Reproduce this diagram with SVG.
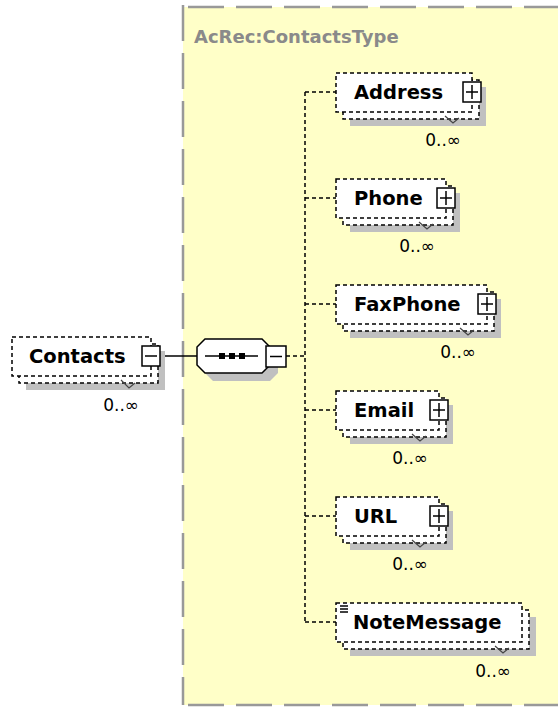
<svg xmlns="http://www.w3.org/2000/svg" width="558" height="707" viewBox="0 0 558 707">
<style>
.bg{fill:#ffffff}
.cont{fill:#ffffc8}
.cborder{fill:none;stroke:#999999;stroke-width:2.5;stroke-dasharray:36 12}
.title{font-family:"DejaVu Sans",sans-serif;font-weight:bold;font-size:18px;fill:#8a8a8a}
.shadow{fill:#c0c0c0}
.box{fill:#ffffff;stroke:#000000;stroke-width:1.5;stroke-dasharray:4 3}
.name{font-family:"DejaVu Sans",sans-serif;font-weight:bold;font-size:19.5px;fill:#000000}
.occ{font-family:"DejaVu Sans",sans-serif;font-size:17px;fill:#000000;text-anchor:end}
.icon{fill:#ffffff;stroke:#000000;stroke-width:1.5}
.iline{stroke:#000000;stroke-width:1.5;fill:none}
.vmark{fill:none;stroke:#444444;stroke-width:1.2}
.solid{stroke:#000000;stroke-width:1.5;fill:none}
.dash{stroke:#000000;stroke-width:1.5;fill:none;stroke-dasharray:4 3}
</style>
<rect class="bg" x="0" y="0" width="558" height="707"/>
<g id="container">
<rect class="cont" x="183" y="7" width="380" height="698"/>
<line class="cborder" x1="188" y1="7" x2="558" y2="7"/>
<line class="cborder" x1="183" y1="5" x2="183" y2="705"/>
<line class="cborder" x1="188" y1="705" x2="558" y2="705"/>
<text class="title" x="194" y="43">AcRec:ContactsType</text>
</g>
<g id="connectors">
<line class="solid" x1="160" y1="356" x2="197" y2="356"/>
<line class="dash" x1="286" y1="356" x2="305" y2="356"/>
<line class="dash" x1="305" y1="92" x2="305" y2="622"/>
<line class="dash" x1="305" y1="92" x2="336" y2="92"/>
<line class="dash" x1="305" y1="198" x2="336" y2="198"/>
<line class="dash" x1="305" y1="304" x2="336" y2="304"/>
<line class="dash" x1="305" y1="410" x2="336" y2="410"/>
<line class="dash" x1="305" y1="516" x2="336" y2="516"/>
<line class="dash" x1="305" y1="622" x2="336" y2="622"/>
</g>
<g id="node-contacts">
<rect class="shadow" x="26" y="351" width="139" height="39"/>
<rect class="box" x="19" y="344" width="139" height="39"/>
<rect class="box" x="12" y="337" width="139" height="39"/>
<text class="name" x="29" y="363">Contacts</text>
<rect class="icon" x="142" y="346" width="18" height="20"/>
<line class="iline" x1="145" y1="356" x2="157" y2="356"/>
<polyline class="vmark" points="121,380 129,388 135,383"/>
<text class="occ" x="139" y="411">0..∞</text>
</g>
<g id="sequence">
<polygon class="shadow" points="213,347 270,347 278,355 278,373 270,381 213,381 205,373 205,355"/>
<polygon fill="#ffffff" stroke="#000000" stroke-width="1.5" points="205,339 262,339 270,347 270,365 262,373 205,373 197,365 197,347"/>
<line class="solid" x1="205" y1="356" x2="258" y2="356"/>
<rect x="219" y="353" width="6" height="6" fill="#000000"/>
<rect x="229" y="353" width="6" height="6" fill="#000000"/>
<rect x="239" y="353" width="6" height="6" fill="#000000"/>
<rect class="icon" x="266" y="346" width="20" height="21"/>
<line class="iline" x1="270" y1="356.5" x2="282" y2="356.5"/>
</g>
<g id="node-address">
<rect class="shadow" x="350" y="87" width="136" height="39"/>
<rect class="box" x="343" y="80" width="136" height="39"/>
<rect class="box" x="336" y="73" width="136" height="39"/>
<text class="name" x="354" y="99">Address</text>
<rect class="icon" x="463" y="82" width="18" height="20"/>
<line class="iline" x1="466" y1="92" x2="478" y2="92"/>
<line class="iline" x1="472" y1="85" x2="472" y2="99"/>
<polyline class="vmark" points="445,116 453,123 459,118"/>
<text class="occ" x="461" y="146">0..∞</text>
</g>
<g id="node-phone">
<rect class="shadow" x="350" y="193" width="110" height="39"/>
<rect class="box" x="343" y="186" width="110" height="39"/>
<rect class="box" x="336" y="179" width="110" height="39"/>
<text class="name" x="354" y="205">Phone</text>
<rect class="icon" x="437" y="188" width="18" height="20"/>
<line class="iline" x1="440" y1="198" x2="452" y2="198"/>
<line class="iline" x1="446" y1="191" x2="446" y2="205"/>
<polyline class="vmark" points="419,222 427,229 433,224"/>
<text class="occ" x="435" y="252">0..∞</text>
</g>
<g id="node-faxphone">
<rect class="shadow" x="350" y="299" width="151" height="39"/>
<rect class="box" x="343" y="292" width="151" height="39"/>
<rect class="box" x="336" y="285" width="151" height="39"/>
<text class="name" x="354" y="311">FaxPhone</text>
<rect class="icon" x="478" y="294" width="18" height="20"/>
<line class="iline" x1="481" y1="304" x2="493" y2="304"/>
<line class="iline" x1="487" y1="297" x2="487" y2="311"/>
<polyline class="vmark" points="460,328 468,335 474,330"/>
<text class="occ" x="476" y="358">0..∞</text>
</g>
<g id="node-email">
<rect class="shadow" x="350" y="405" width="103" height="39"/>
<rect class="box" x="343" y="398" width="103" height="39"/>
<rect class="box" x="336" y="391" width="103" height="39"/>
<text class="name" x="354" y="417">Email</text>
<rect class="icon" x="430" y="400" width="18" height="20"/>
<line class="iline" x1="433" y1="410" x2="445" y2="410"/>
<line class="iline" x1="439" y1="403" x2="439" y2="417"/>
<polyline class="vmark" points="412,434 420,441 426,436"/>
<text class="occ" x="428" y="464">0..∞</text>
</g>
<g id="node-url">
<rect class="shadow" x="350" y="511" width="103" height="39"/>
<rect class="box" x="343" y="504" width="103" height="39"/>
<rect class="box" x="336" y="497" width="103" height="39"/>
<text class="name" x="354" y="523">URL</text>
<rect class="icon" x="430" y="506" width="18" height="20"/>
<line class="iline" x1="433" y1="516" x2="445" y2="516"/>
<line class="iline" x1="439" y1="509" x2="439" y2="523"/>
<polyline class="vmark" points="412,540 420,547 426,542"/>
<text class="occ" x="428" y="570">0..∞</text>
</g>
<g id="node-notemessage">
<rect class="shadow" x="350" y="617" width="186" height="39"/>
<rect class="box" x="343" y="610" width="186" height="39"/>
<rect class="box" x="336" y="603" width="186" height="39"/>
<line class="iline" x1="340" y1="606" x2="348" y2="606"/>
<line class="iline" x1="340" y1="609" x2="348" y2="609"/>
<line class="iline" x1="340" y1="612" x2="348" y2="612"/>
<text class="name" x="353" y="629">NoteMessage</text>
<polyline class="vmark" points="495,646 503,653 509,648"/>
<text class="occ" x="511" y="677">0..∞</text>
</g>
</svg>
